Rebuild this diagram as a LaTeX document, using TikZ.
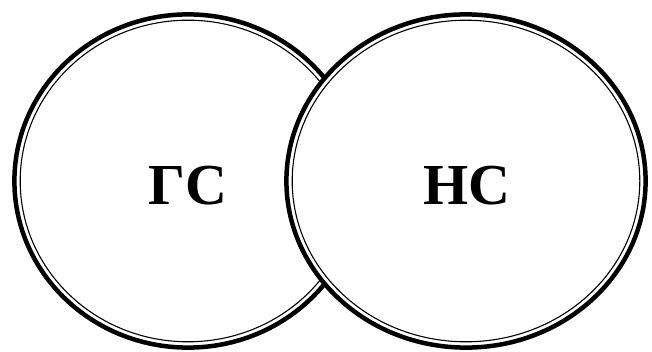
\documentclass[tikz,border=0pt]{standalone}
\usepackage{fontspec}
\setmainfont{Liberation Serif}
\begin{document}
\begin{tikzpicture}[x=1pt,y=-1pt,
  outerring/.style={line width=4.5pt},
  innerring/.style={line width=1.1pt},
  label/.style={font=\fontsize{58}{58}\selectfont\bfseries, inner sep=0pt}]
\useasboundingbox (0,0) rectangle (652,352);
% left ellipse
\draw[outerring] (188,181) ellipse [x radius=173.6pt, y radius=166.6pt];
\draw[innerring] (188,181) ellipse [x radius=167.8pt, y radius=160.8pt];
% right ellipse (on top, white fill)
\draw[outerring, fill=white] (466,181) ellipse [x radius=179.6pt, y radius=166.6pt];
\draw[innerring] (466,181) ellipse [x radius=173.8pt, y radius=160.8pt];
\node[label] (gs) at (188,186) {ГС};
\node[label] (ns) at (467,186) {НС};
\end{tikzpicture}
\end{document}
